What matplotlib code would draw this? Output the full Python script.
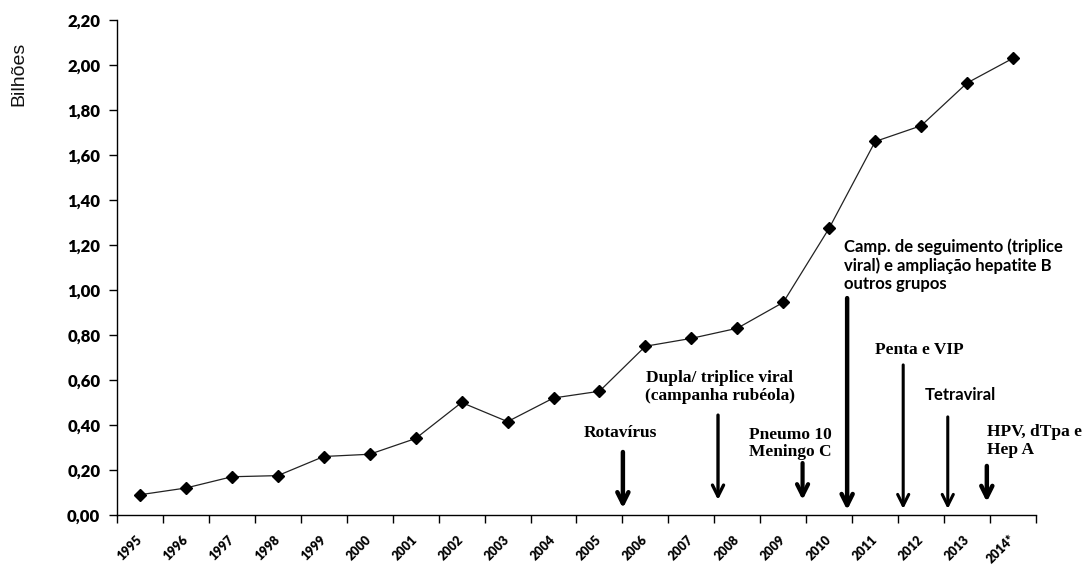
import numpy as np
import matplotlib
matplotlib.use('Agg')
import matplotlib.pyplot as plt

# doses aplicadas por ano (bilhões)
years = ['1995', '1996', '1997', '1998', '1999', '2000', '2001', '2002', '2003', '2004',
         '2005', '2006', '2007', '2008', '2009', '2010', '2011', '2012', '2013', '2014*']
doses = [0.09, 0.12, 0.17, 0.175, 0.26, 0.27, 0.34, 0.50, 0.415, 0.52,
         0.55, 0.75, 0.785, 0.83, 0.945, 1.275, 1.66, 1.73, 1.92, 2.03]

yticks = [0.0, 0.2, 0.4, 0.6, 0.8, 1.0, 1.2, 1.4, 1.6, 1.8, 2.0, 2.2]

# vacinas introduzidas
events = ['Rotavírus',
          'Dupla/ triplice viral\n(campanha rubéola)',
          'Pneumo 10\nMeningo C',
          'Camp. de seguimento (triplice\nviral) e ampliação hepatite B\noutros grupos',
          'Penta e VIP',
          'Tetraviral',
          'HPV, dTpa e\nHep A']

# (texto x, texto y, alinhamento, fonte, seta x, seta topo, seta ponta, espessura)
event_layout = [
    (10.45, 0.364, 'center', 'serif', 10.51, 0.28, 0.03, 3.2),
    (12.62, 0.569, 'center', 'serif', 12.58, 0.444, 0.067, 2.4),
    (14.15, 0.318, 'center', 'serif', 14.42, 0.231, 0.067, 3.0),
    (15.32, 1.111, 'left', 'sans', 15.39, 0.964, 0.022, 3.2),
    (15.99, 0.733, 'left', 'serif', 16.61, 0.667, 0.027, 2.2),
    (17.08, 0.533, 'left', 'sans', 17.58, 0.436, 0.027, 2.2),
    (18.43, 0.329, 'left', 'serif', 18.43, 0.218, 0.058, 3.2),
]

fig = plt.figure(figsize=(10.83, 5.66), dpi=100)
ax = fig.add_axes([0.108, 0.0901, 0.8486, 0.8746])

x = np.arange(len(years))
ax.plot(x, doses, color='#222222', lw=0.9, marker='D', ms=6,
        markerfacecolor='black', markeredgecolor='black')

ax.set_xlim(-0.5, len(years) - 0.5)
ax.set_ylim(0, 2.2)

# ticks nas divisões das categorias, rótulos no centro
ax.set_xticks(np.arange(len(years) + 1) - 0.5)
ax.set_xticklabels([])
ax.set_xticks(x, minor=True)
ax.set_xticklabels(years, minor=True, rotation=45, ha='right', va='center',
                   rotation_mode='anchor', fontsize=9, fontweight='heavy',
                   family='Lato')
ax.tick_params(axis='x', which='major', direction='out', length=6, width=1)
ax.tick_params(axis='x', which='minor', length=0, pad=16)

ax.set_yticks(yticks)
ax.set_yticklabels([f'{v:.2f}'.replace('.', ',') for v in yticks],
                   fontsize=12, fontweight='heavy', family='Lato')
ax.tick_params(axis='y', direction='out', length=6, width=1, pad=6)

for side in ['top', 'right']:
    ax.spines[side].set_visible(False)
for side in ['left', 'bottom']:
    ax.spines[side].set_linewidth(1.0)

fig.text(0.017, 0.87, 'Bilhões', rotation=90, ha='center', va='center',
         fontsize=14, family='Liberation Sans', color='#111111')

for label, (tx, ty, ha, fam, ax_x, y0, y1, lw) in zip(events, event_layout):
    family = 'Liberation Serif' if fam == 'serif' else 'Lato'
    size = 12.5 if fam == 'serif' else 12
    ax.text(tx, ty, label, ha=ha, va='center', multialignment=ha,
            fontsize=size, fontweight='bold', family=family,
            linespacing=1.15, color='black')
    ax.annotate('', xy=(ax_x, y1), xytext=(ax_x, y0),
                arrowprops=dict(arrowstyle='->,head_length=0.8,head_width=0.4',
                                lw=lw, color='black', shrinkA=0, shrinkB=0))

fig.savefig('out.png', dpi=100)
